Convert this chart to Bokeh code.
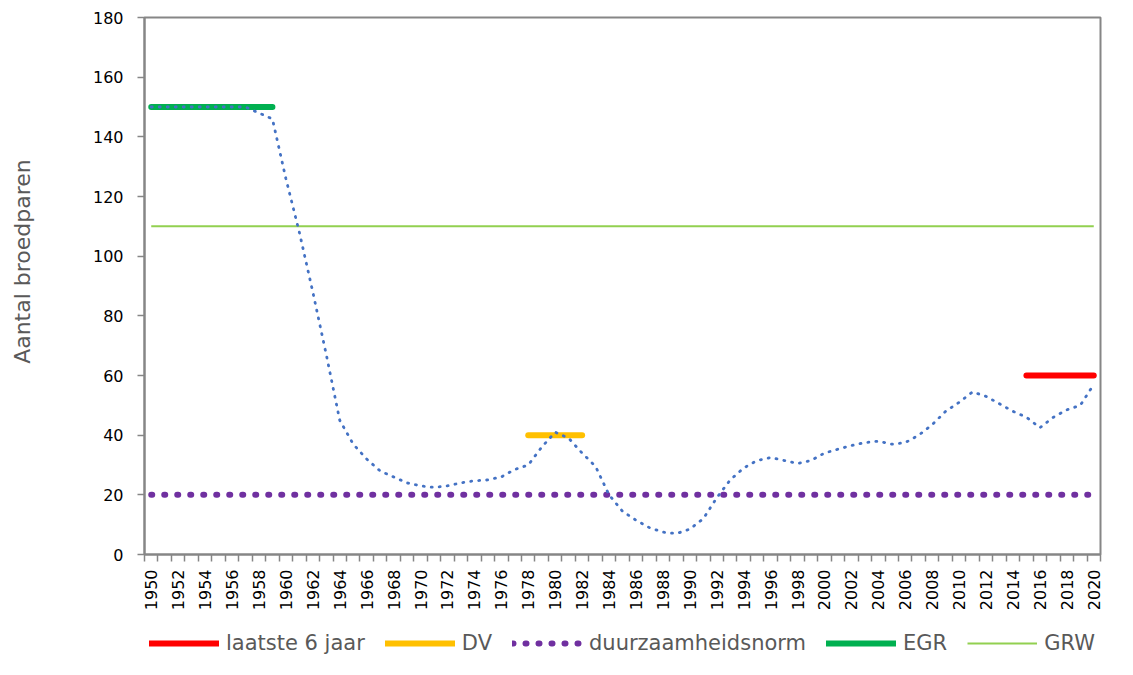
import math
from bokeh.plotting import figure
from bokeh.models import Range1d, FixedTicker, Legend, LegendItem
from bokeh.layouts import column
from bokeh.embed import file_html
from bokeh.resources import INLINE

# ---- data ----
years = list(range(1950, 2021))
broedparen = [150, 150, 150, 150, 150, 150, 150, 150, 148, 146,
              126, 108, 88, 67, 45, 37, 32, 28, 26, 24,
              23, 22.5, 23, 24, 24.7, 25, 26, 28.5, 30, 36,
              41, 39, 34, 29.5, 20, 14.5, 11.5, 9, 7.5, 7,
              8.5, 12, 19, 25, 29, 31.5, 32.5, 31.5, 30.5, 31.5,
              34, 35.3, 36.5, 37.5, 38, 37, 37.5, 40, 43.5, 48,
              51, 54.5, 53, 50.5, 48, 46, 42.5, 46, 48.5, 50,
              57]

grw_years = [1950, 2020]
grw_vals = [110, 110]
norm_years = [1950, 2020]
norm_vals = [20, 20]
egr_years = [1950, 1959]
egr_vals = [150, 150]
dv_years = [1978, 1982]
dv_vals = [40, 40]
laatste_years = [2015, 2020]
laatste_vals = [60, 60]

ytick_vals = list(range(0, 181, 20))
xtick_vals = list(range(1950, 2021, 2))
xminor_vals = [y - 0.5 for y in range(1950, 2022)]

legend_labels = ["laatste 6 jaar", "DV", "duurzaamheidsnorm", "EGR", "GRW"]

FONT = "DejaVu Sans"
GREY = "#868686"
TEXT_GREY = "#595959"

# styles
st_red = dict(line_color="#FF0000", line_width=6, line_cap="round")
st_dv = dict(line_color="#FFC000", line_width=6, line_cap="round")
st_norm = dict(line_color="#7030A0", line_width=6, line_cap="round", line_dash="1 12")
st_egr = dict(line_color="#00B050", line_width=6, line_cap="round")
st_grw = dict(line_color="#92D050", line_width=2)

p = figure(width=1117, height=630, output_backend="svg", toolbar_location=None,
           x_range=Range1d(1949.5, 2020.5), y_range=Range1d(0, 180),
           min_border_left=144, min_border_right=17, min_border_top=17,
           min_border_bottom=76)
p.grid.visible = False
p.outline_line_color = GREY
p.outline_line_width = 2
p.background_fill_color = "white"
p.border_fill_color = "white"

# ---- glyphs ----
p.line(grw_years, grw_vals, **st_grw)
p.line(laatste_years, laatste_vals, **st_red)
p.line(dv_years, dv_vals, **st_dv)
p.line(egr_years, egr_vals, **st_egr)
p.line(norm_years, norm_vals, **st_norm)
p.line(years, broedparen, line_color="#4472C4", line_width=2.8,
       line_cap="round", line_dash="1 7")

# ---- axes ----
xa = p.xaxis[0]
xa.ticker = FixedTicker(ticks=xtick_vals, minor_ticks=xminor_vals)
xa.major_label_orientation = math.pi / 2
xa.major_label_text_font = FONT
xa.major_label_text_font_size = "16px"
xa.major_label_text_color = "#000000"
xa.major_label_standoff = 8
xa.major_tick_line_color = None
xa.major_tick_out = 7
xa.major_tick_in = 0
xa.minor_tick_line_color = GREY
xa.minor_tick_line_width = 1.5
xa.minor_tick_out = 7
xa.minor_tick_in = 0
xa.axis_line_color = GREY
xa.axis_line_width = 2

ya = p.yaxis[0]
ya.ticker = FixedTicker(ticks=ytick_vals)
ya.major_label_text_font = FONT
ya.major_label_text_font_size = "16px"
ya.major_label_text_color = "#000000"
ya.major_label_standoff = 14
ya.major_tick_line_color = GREY
ya.major_tick_line_width = 1.5
ya.major_tick_out = 7
ya.major_tick_in = 0
ya.minor_tick_line_color = None
ya.axis_line_color = GREY
ya.axis_line_width = 2
ya.axis_label = "\u00a0" * 7 + "Aantal broedparen"
ya.axis_label_text_font = FONT
ya.axis_label_text_font_size = "22px"
ya.axis_label_text_font_style = "normal"
ya.axis_label_text_color = TEXT_GREY
ya.axis_label_standoff = 55

# ---- legend strip (separate figure below the chart) ----
p2 = figure(width=1117, height=29, output_backend="svg", toolbar_location=None,
            x_range=Range1d(0, 1), y_range=Range1d(0, 1),
            x_axis_location=None, y_axis_location=None, min_border=0)
p2.grid.visible = False
p2.outline_line_color = None
p2.border_fill_color = "white"
p2.background_fill_color = "white"

styles = [st_red, st_dv, st_norm, st_egr, st_grw]
items = []
for lab, st in zip(legend_labels, styles):
    r = p2.line(x=[float("nan")], y=[float("nan")], **st)
    items.append(LegendItem(label=lab, renderers=[r]))

legend = Legend(items=items, orientation="horizontal", location=(5, 4))
legend.label_text_font = FONT
legend.label_text_font_size = "21px"
legend.label_text_color = TEXT_GREY
legend.glyph_width = 70
legend.glyph_height = 20
legend.label_height = 20
legend.label_standoff = 7
legend.spacing = 20
legend.padding = 0
legend.margin = 0
legend.border_line_color = None
legend.background_fill_alpha = 0
p2.add_layout(legend, "center")

layout = column(p, p2, spacing=0)
open("out.html", "w").write(file_html(layout, INLINE))
